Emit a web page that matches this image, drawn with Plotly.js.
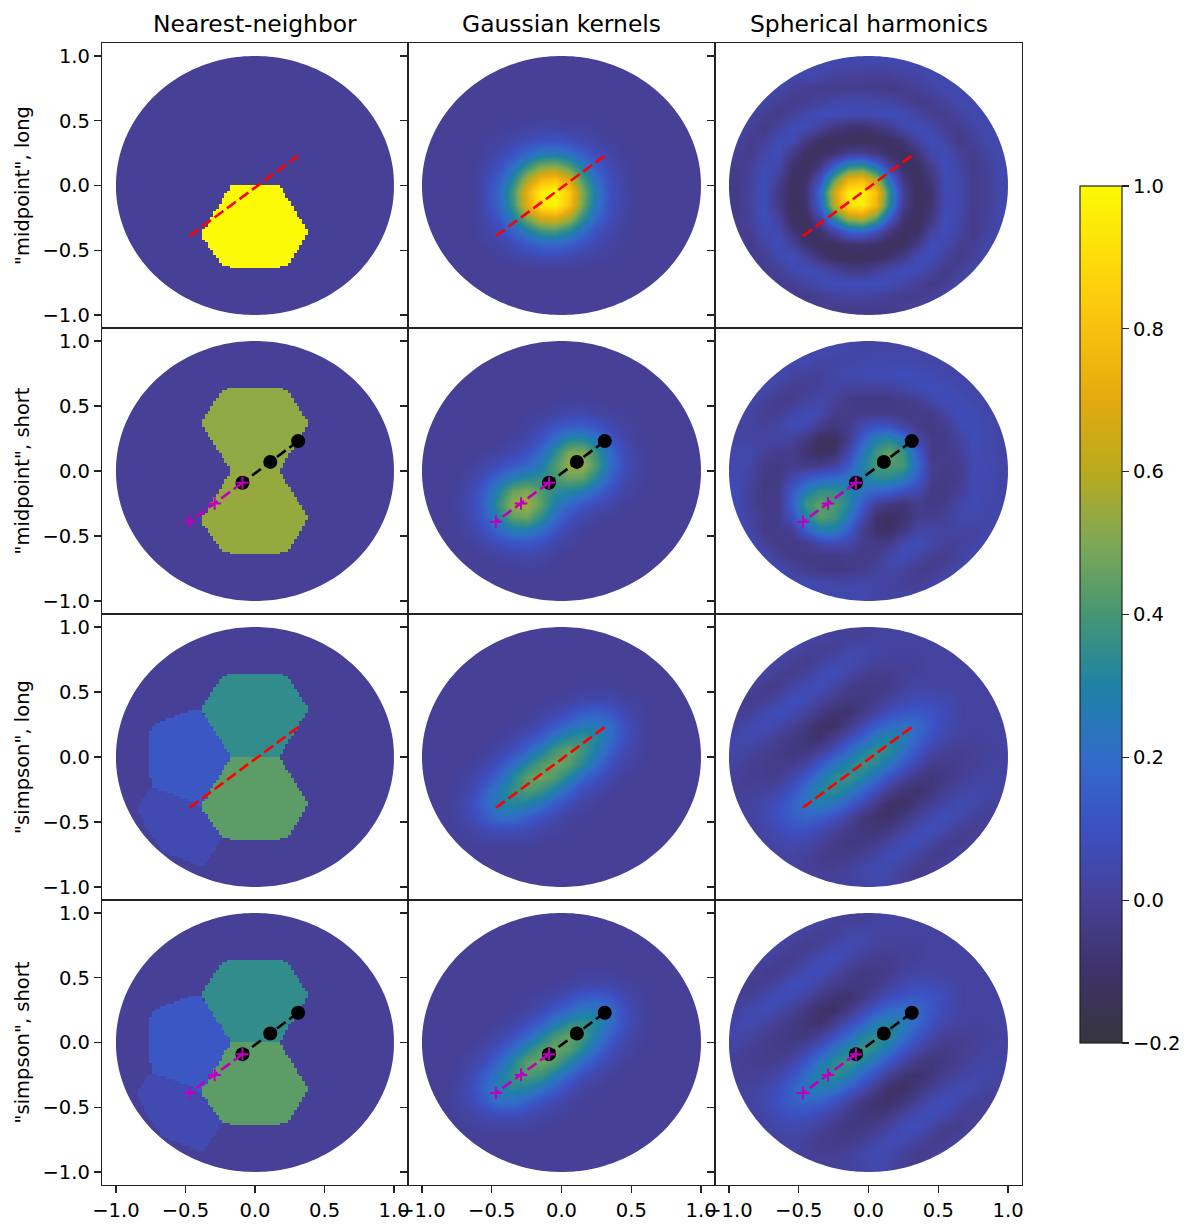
<!DOCTYPE html>
<html><head><meta charset="utf-8">
<script src="https://cdn.plot.ly/plotly-3.0.1.min.js"></script>
<style>html,body{margin:0;padding:0;background:#fff}</style>
</head><body><div id="chart" style="width:1197px;height:1232px"></div>
<script>
const columnTitles = ['Nearest-neighbor','Gaussian kernels','Spherical harmonics'];
const rowTitles = ['"midpoint", long','"midpoint", short','"simpson", long','"simpson", short'];
const tickValues = [-1,-0.5,0,0.5,1];
const colorbarTicks = [-0.2,0,0.2,0.4,0.6,0.8,1];

const scaleValues = [-0.2,-0.1,0,0.1,0.2,0.3,0.4,0.5,0.6,0.7,0.8,0.9,1];
const scaleColors = ['rgb(54,54,62)','rgb(62,50,105)','rgb(70,64,150)','rgb(60,80,195)','rgb(50,108,200)','rgb(30,130,165)','rgb(70,150,115)','rgb(125,168,85)','rgb(185,170,30)','rgb(228,170,15)','rgb(250,192,15)','rgb(253,220,10)','rgb(253,250,5)'];

// segment end points along the chord
const longX = [-0.47,0.31], longY = [-0.39,0.23];
const shortBlackX = [0.31,0.11,-0.09], shortBlackY = [0.23,0.07,-0.09];
const shortMagentaX = [-0.09,-0.29,-0.47], shortMagentaY = [-0.09,-0.25,-0.39];

// nearest-neighbour cells
const cellUpper = [[-0.23,0.627],[-0.10,0.645],[0.09,0.645],[0.23,0.627],[0.386,0.37],[0.176,0],[-0.17,0],[-0.39,0.37]];
const cellLower = [[-0.17,0],[0.176,0],[0.386,-0.362],[0.235,-0.622],[0.09,-0.64],[-0.10,-0.64],[-0.23,-0.622],[-0.39,-0.383]];
const cellLeft = [[-0.39,0.362],[-0.488,0.35],[-0.728,0.254],[-0.756,0.183],[-0.763,0],[-0.744,-0.229],[-0.47,-0.337],[-0.39,-0.383],[-0.17,0]];
const cellLowerLeft = [[-0.744,-0.229],[-0.852,-0.383],[-0.79,-0.537],[-0.66,-0.73],[-0.374,-0.846],[-0.235,-0.622],[-0.39,-0.383],[-0.47,-0.337]];
const nnMidpointLong = [0,1,0,0];
const nnMidpointShort = [0.53,0.54,0,0];
const nnSimpsonLong = [0.35,0.44,0.125,0.06];
const nnSimpsonShort = [0.35,0.44,0.125,0.06];

const gridX = [-.95,-.85,-.75,-.65,-.55,-.45,-.35,-.25,-.15,-.05,.05,.15,.25,.35,.45,.55,.65,.75,.85,.95];
const gridY = [.95,.85,.75,.65,.55,.45,.35,.25,.15,.05,-.05,-.15,-.25,-.35,-.45,-.55,-.65,-.75,-.85,-.95];

// values in hundredths, rows from top to bottom
const gaussMidLong = [
[0,0,0,0,0,0,0,0,0,0,0,0,0,0,0,0,0,0,0,0],
[0,0,0,0,0,0,0,0,0,0,0,0,0,0,0,0,0,0,0,0],
[0,0,0,0,0,0,0,0,0,0,0,0,0,0,0,0,0,0,0,0],
[0,0,0,0,0,0,0,0,0,0,0,0,0,0,0,0,0,0,0,0],
[0,0,0,0,0,0,0,0,0,0,0,0,0,0,0,0,0,0,0,0],
[0,0,0,0,0,1,1,2,3,3,2,2,1,0,0,0,0,0,0,0],
[0,0,0,0,1,2,4,7,9,10,8,5,3,1,0,0,0,0,0,0],
[0,0,0,0,2,5,10,18,24,26,21,14,7,3,1,0,0,0,0,0],
[0,0,0,0,3,9,21,36,49,51,42,27,14,5,2,0,0,0,0,0],
[0,0,0,0,5,15,32,57,76,80,66,42,21,8,2,0,0,0,0,0],
[0,0,0,0,6,18,40,72,97,100,84,51,26,10,3,0,0,0,0,0],
[0,0,0,0,6,17,38,70,94,98,80,49,24,9,3,0,0,0,0,0],
[0,0,0,0,4,13,28,49,66,69,57,36,18,7,2,0,0,0,0,0],
[0,0,0,0,3,7,16,28,38,40,32,21,10,4,1,0,0,0,0,0],
[0,0,0,0,1,3,7,13,17,18,15,9,5,2,1,0,0,0,0,0],
[0,0,0,0,0,1,3,4,6,6,5,3,2,1,0,0,0,0,0,0],
[0,0,0,0,0,0,0,0,0,0,0,0,0,0,0,0,0,0,0,0],
[0,0,0,0,0,0,0,0,0,0,0,0,0,0,0,0,0,0,0,0],
[0,0,0,0,0,0,0,0,0,0,0,0,0,0,0,0,0,0,0,0],
[0,0,0,0,0,0,0,0,0,0,0,0,0,0,0,0,0,0,0,0]];

const gaussMidShort = [
[0,0,0,0,0,0,0,0,0,0,0,0,0,0,0,0,0,0,0,0],
[0,0,0,0,0,0,0,0,0,0,0,0,0,0,0,0,0,0,0,0],
[0,0,0,0,0,0,0,0,0,0,0,0,0,0,0,0,0,0,0,0],
[0,0,0,0,0,0,0,0,0,0,0,0,0,0,0,0,0,0,0,0],
[0,0,0,0,0,0,0,0,0,1,1,1,1,0,0,0,0,0,0,0],
[0,0,0,0,0,0,0,1,1,3,4,5,3,2,1,0,0,0,0,0],
[0,0,0,0,0,0,0,2,5,10,14,15,11,5,2,1,0,0,0,0],
[0,0,0,0,0,0,2,4,11,21,31,32,24,12,4,1,0,0,0,0],
[0,0,0,0,1,2,5,9,19,34,49,50,37,19,7,2,0,0,0,0],
[0,0,0,1,4,8,13,18,27,41,55,55,41,21,8,2,0,0,0,0],
[0,0,1,3,9,19,28,33,35,40,46,45,32,16,6,2,0,0,0,0],
[0,0,1,5,15,31,46,50,42,34,31,27,18,9,3,1,0,0,0,0],
[0,0,2,6,18,37,54,57,44,28,18,12,7,4,1,0,0,0,0,0],
[0,0,1,5,15,31,45,47,35,20,10,5,2,1,0,0,0,0,0,0],
[0,0,1,3,9,19,27,28,21,11,4,1,0,0,0,0,0,0,0,0],
[0,0,0,1,4,8,11,12,9,4,2,0,0,0,0,0,0,0,0,0],
[0,0,0,0,1,2,3,4,3,1,0,0,0,0,0,0,0,0,0,0],
[0,0,0,0,0,0,1,1,1,0,0,0,0,0,0,0,0,0,0,0],
[0,0,0,0,0,0,0,0,0,0,0,0,0,0,0,0,0,0,0,0],
[0,0,0,0,0,0,0,0,0,0,0,0,0,0,0,0,0,0,0,0]];

const gaussSimpson = [
[0,0,0,0,0,0,0,0,0,0,0,0,0,0,0,0,0,0,0,0],
[0,0,0,0,0,0,0,0,0,0,0,0,0,0,0,0,0,0,0,0],
[0,0,0,0,0,0,0,0,0,0,0,0,0,0,0,0,0,0,0,0],
[0,0,0,0,0,0,0,0,0,0,0,0,0,0,0,0,0,0,0,0],
[0,0,0,0,0,0,0,0,0,0,0,1,1,1,0,0,0,0,0,0],
[0,0,0,0,0,0,0,0,0,1,2,4,4,4,2,1,0,0,0,0],
[0,0,0,0,0,0,0,1,2,4,8,13,15,12,5,2,0,0,0,0],
[0,0,0,0,0,0,1,2,6,12,19,25,26,20,9,3,0,0,0,0],
[0,0,0,0,0,1,3,8,15,26,34,36,32,21,9,3,0,0,0,0],
[0,0,0,0,1,4,9,18,29,40,46,39,28,15,6,2,0,0,0,0],
[0,0,0,1,4,10,20,32,42,47,43,33,20,9,3,1,0,0,0,0],
[0,0,1,3,8,18,32,44,47,42,31,19,10,4,1,0,0,0,0,0],
[0,0,1,5,15,26,36,42,38,28,17,8,4,1,0,0,0,0,0,0],
[0,0,2,8,18,28,33,30,24,14,7,3,1,0,0,0,0,0,0,0],
[0,0,2,6,14,22,22,16,10,5,2,1,0,0,0,0,0,0,0,0],
[0,0,1,3,6,8,8,6,4,2,1,0,0,0,0,0,0,0,0,0],
[0,0,0,1,2,2,2,2,1,0,0,0,0,0,0,0,0,0,0,0],
[0,0,0,0,0,0,0,0,0,0,0,0,0,0,0,0,0,0,0,0],
[0,0,0,0,0,0,0,0,0,0,0,0,0,0,0,0,0,0,0,0],
[0,0,0,0,0,0,0,0,0,0,0,0,0,0,0,0,0,0,0,0]];

const sphMidLong = [
[5,5,5,5,5,5,5,5,5,5,5,5,5,5,5,5,5,5,5,5],
[5,5,5,5,5,5,4,2,1,0,0,0,2,3,5,5,5,5,5,5],
[5,5,5,4,1,-1,-2,-3,-2,-2,-3,-3,-2,0,3,5,5,5,5,5],
[5,5,3,0,-2,-1,1,4,5,5,4,3,0,-3,-2,2,5,5,5,5],
[5,3,-1,-3,1,5,8,8,7,6,7,8,7,3,-1,-2,2,5,5,5],
[5,0,-3,1,7,8,1,-5,-8,-9,-6,-2,5,8,4,-1,-2,3,5,5],
[2,-2,0,7,7,-4,-11,-13,-13,-13,-13,-12,-7,3,8,3,-3,0,5,5],
[0,-2,4,8,-3,-12,-12,-8,-2,-1,-5,-11,-13,-7,5,7,0,-2,3,5],
[-2,0,7,4,-9,-13,-5,14,33,36,22,1,-11,-12,-2,8,3,-3,1,5],
[-2,1,8,0,-12,-10,9,44,72,77,57,22,-5,-13,-6,7,5,-2,0,5],
[-3,2,8,-4,-13,-8,19,65,95,98,80,36,-1,-13,-9,6,5,-2,0,5],
[-3,2,8,-3,-13,-9,16,60,92,96,75,33,-2,-13,-8,6,5,-2,0,5],
[-2,1,8,1,-12,-12,3,33,57,62,44,14,-8,-13,-5,8,4,-3,1,5],
[-1,-1,6,6,-7,-13,-9,3,16,19,9,-5,-12,-11,1,8,2,-3,2,5],
[1,-3,3,8,1,-9,-13,-12,-9,-8,-10,-13,-12,-4,8,5,-1,-1,4,5],
[3,-2,-1,5,8,1,-7,-12,-13,-13,-12,-9,-3,7,7,1,-3,1,5,5],
[5,1,-2,0,5,8,6,1,-3,-4,0,4,8,7,2,-3,0,4,5,5],
[5,5,1,-2,-1,3,6,8,8,8,8,7,4,0,-3,-1,3,5,5,5],
[5,5,5,1,-2,-3,-1,1,2,2,1,0,-2,-2,0,3,5,5,5,5],
[5,5,5,5,3,1,-1,-2,-3,-3,-2,-2,0,2,5,5,5,5,5,5]];

const sphMidShort = [
[5,5,5,5,5,5,5,5,4,3,3,3,3,4,5,5,5,5,5,5],
[5,5,5,5,5,5,3,3,3,4,5,5,5,4,3,4,5,5,5,5],
[5,5,5,5,3,1,1,3,5,6,7,7,8,7,6,4,3,5,5,5],
[5,5,5,2,-1,-1,1,3,2,1,1,2,4,7,8,7,5,3,5,5],
[5,5,1,-2,-2,2,4,1,-3,-4,-4,-4,-3,-1,4,7,7,5,3,5],
[5,2,-1,-1,4,7,5,-2,-3,-3,-3,-3,-4,-3,-3,3,7,7,4,4],
[3,2,1,3,7,6,-3,-6,-3,6,11,10,3,-3,-4,-2,6,7,5,3],
[3,3,3,3,1,-5,-12,-12,-3,14,28,33,23,5,-3,-3,2,7,5,3],
[4,5,0,-2,-2,-8,-12,-10,4,24,38,45,38,15,-4,-3,0,7,5,3],
[5,4,-3,-4,-2,-4,-3,1,12,29,40,42,40,20,-1,-3,-2,6,6,3],
[6,2,-4,-4,4,12,17,19,23,28,34,34,28,14,-2,-4,-2,6,5,3],
[7,0,-4,-3,13,28,36,36,31,22,17,15,9,5,-4,-4,0,6,5,3],
[7,0,-4,-3,15,38,44,41,32,14,0,-5,-7,-2,-4,-2,3,6,4,4],
[7,2,-3,-3,10,30,43,39,26,6,-9,-12,-9,-2,-2,0,4,5,3,4],
[7,4,-3,-3,-1,15,27,27,15,-1,-10,-11,-5,3,4,2,3,2,4,5],
[7,6,0,-3,-3,-2,5,7,4,-2,-4,-3,5,8,4,1,1,3,5,5],
[5,7,6,-1,-3,-4,-4,-4,-3,-3,-2,4,7,4,-1,-2,2,5,5,5],
[3,5,7,6,1,-2,-3,-4,-3,-2,1,4,2,-2,-2,1,5,5,5,5],
[5,5,5,5,5,6,4,3,3,4,3,2,0,-1,2,5,5,5,5,5],
[5,5,5,5,5,5,5,5,5,5,3,2,2,3,5,5,5,5,5,5]];

const sphSimpson = [
[6,6,6,6,6,6,4,1,0,0,2,3,2,2,2,2,2,2,2,2],
[6,6,6,6,4,1,-1,0,3,4,3,2,2,2,2,2,2,2,2,2],
[6,6,5,3,0,-2,0,4,6,4,2,1,1,1,2,2,2,2,2,2],
[6,4,3,-1,-2,1,6,8,4,0,-2,-2,0,1,2,2,2,2,2,2],
[4,1,-2,-2,2,6,8,3,-2,-4,-4,-3,1,3,3,2,2,2,2,2],
[0,-2,-1,3,8,7,2,-2,-4,-5,-3,1,5,7,6,5,3,2,2,2],
[-1,0,5,8,6,1,-4,-8,-9,-4,2,8,11,13,11,7,3,2,2,2],
[2,5,7,4,0,-5,-10,-11,-4,5,13,19,22,19,12,6,3,2,2,2],
[4,5,3,-1,-4,-7,-9,-2,7,16,27,31,27,18,9,4,2,1,2,2],
[4,2,-1,-3,-5,-5,0,9,19,30,36,33,22,11,4,0,-1,0,1,2],
[2,-1,-2,-3,-2,3,12,23,31,37,33,24,12,4,-2,-3,-1,0,2,2],
[0,-1,-2,-1,4,12,24,34,37,31,21,10,2,-4,-6,-4,-1,2,3,3],
[0,0,1,4,10,21,31,35,29,18,8,-1,-7,-9,-6,-1,2,4,4,2],
[2,2,4,8,16,24,28,24,15,6,-3,-10,-11,-6,-1,3,6,5,2,1],
[2,2,5,10,15,18,16,10,3,-5,-9,-10,-6,0,5,8,5,1,0,1],
[2,2,3,7,10,10,6,2,-3,-6,-7,-4,1,6,8,5,0,-1,1,3],
[2,2,2,4,5,4,1,-3,-5,-4,-2,2,7,8,3,-2,-2,1,3,4],
[2,2,2,2,3,1,-2,-3,-3,-1,3,7,6,2,-2,-2,2,4,6,6],
[2,2,2,2,2,0,-1,-1,1,4,6,5,1,-2,-1,3,5,6,6,6],
[2,2,2,2,2,2,1,1,2,3,5,3,0,-2,0,3,5,6,6,6]];

const nnPanels = [nnMidpointLong,nnMidpointShort,nnSimpsonLong,nnSimpsonShort];
const gaussPanels = [gaussMidLong,gaussMidShort,gaussSimpson,gaussSimpson];
const sphPanels = [sphMidLong,sphMidShort,sphSimpson,sphSimpson];

const W = 1197, H = 1232;
const colEdges = [102,408,715,1022];
const rowEdges = [43,328,614,900,1185];
const textColor = '#000';
const fontFamily = '"DejaVu Sans", sans-serif';
const tickSize = 19.5;
const colorscale = scaleValues.map((v,i)=>[(v+0.2)/1.2, scaleColors[i]]);

function inside(poly,x,y){
  let c=false;
  for(let i=0,j=poly.length-1;i<poly.length;j=i++){
    const [xi,yi]=poly[i],[xj,yj]=poly[j];
    if((yi>y)!==(yj>y) && x<(xj-xi)*(y-yi)/(yj-yi)+xi) c=!c;
  }
  return c;
}
const cells=[cellUpper,cellLower,cellLeft,cellLowerLeft];
const nnAxis=[]; for(let i=0;i<100;i++) nnAxis.push(-0.99+i*0.02);
function nnGrid(values){
  return nnAxis.map(y=>nnAxis.map(x=>{
    for(let k=0;k<cells.length;k++) if(inside(cells[k],x,y)) return values[k];
    return 0;
  }));
}
const hundredths = g => g.map(r=>r.map(v=>v/100));

// white surround outside the unit disc
let maskPath='M-1.03,-1.03L1.03,-1.03L1.03,1.03L-1.03,1.03Z';
for(let i=0;i<=240;i++){
  const t=2*Math.PI*i/240;
  maskPath+=(i?'L':'M')+Math.cos(t).toFixed(4)+','+Math.sin(t).toFixed(4);
}
maskPath+='Z';

const data=[], shapes=[], annotations=[];
const layout={width:W,height:H,paper_bgcolor:'#fff',plot_bgcolor:'rgba(0,0,0,0)',showlegend:false,
  margin:{l:0,r:0,t:0,b:0,autoexpand:false},font:{family:fontFamily,size:tickSize,color:textColor}};

for(let r=0;r<4;r++){
  for(let c=0;c<3;c++){
    const n=r*3+c+1, sx=n===1?'':n, xa='x'+sx, ya='y'+sx;
    layout['xaxis'+sx]={domain:[colEdges[c]/W,colEdges[c+1]/W],range:[-1.1,1.1],anchor:ya,showgrid:false,zeroline:false,
      showline:true,mirror:true,linecolor:'#222',linewidth:1.2,layer:'above traces',
      tickmode:'array',tickvals:r===3?tickValues:[],tickformat:'.1f',ticks:r===3?'outside':'',ticklen:7,tickwidth:1.2,tickcolor:'#222',
      showticklabels:r===3,tickfont:{size:tickSize,color:textColor,family:fontFamily}};
    layout['yaxis'+sx]={domain:[1-rowEdges[r+1]/H,1-rowEdges[r]/H],range:[-1.1,1.1],anchor:xa,showgrid:false,zeroline:false,
      showline:true,mirror:true,linecolor:'#222',linewidth:1.2,layer:'above traces',
      tickmode:'array',tickvals:tickValues,tickformat:'.1f',ticks:'outside',ticklen:7,tickwidth:1.2,tickcolor:'#222',
      showticklabels:c===0,tickfont:{size:tickSize,color:textColor,family:fontFamily}};
    if(c===0){
      layout['yaxis'+sx].title={text:rowTitles[r],font:{size:tickSize,color:textColor,family:fontFamily},standoff:7};
    }
    const base={type:'heatmap',xaxis:xa,yaxis:ya,zmin:-0.2,zmax:1,colorscale,showscale:false,hoverinfo:'skip'};
    if(c===0) data.push({...base,x:nnAxis,y:nnAxis,z:nnGrid(nnPanels[r]),zsmooth:false});
    else data.push({...base,x:gridX,y:gridY,z:hundredths((c===1?gaussPanels:sphPanels)[r]),zsmooth:'best'});

    if(r%2===0){
      data.push({type:'scatter',mode:'lines',x:longX,y:longY,xaxis:xa,yaxis:ya,hoverinfo:'skip',
        line:{color:'#ff0000',width:2.6,dash:'11px,4.5px'}});
    } else {
      data.push({type:'scatter',mode:'lines+markers',x:shortBlackX,y:shortBlackY,xaxis:xa,yaxis:ya,hoverinfo:'skip',
        line:{color:'#000',width:2.6,dash:'11px,4.5px'},marker:{color:'#000',size:14,symbol:'circle'}});
      data.push({type:'scatter',mode:'lines+markers',x:shortMagentaX,y:shortMagentaY,xaxis:xa,yaxis:ya,hoverinfo:'skip',
        line:{color:'#bf00bf',width:2.6,dash:'11px,4.5px'},marker:{color:'#bf00bf',size:9,symbol:'cross-thin',line:{color:'#bf00bf',width:2}}});
    }
    shapes.push({type:'path',xref:xa,yref:ya,layer:'above',path:maskPath,fillcolor:'#fff',fillrule:'evenodd',line:{width:0}});
  }
}
columnTitles.forEach((t,c)=>annotations.push({text:t,xref:'paper',yref:'paper',
  x:(colEdges[c]+colEdges[c+1])/2/W,y:1-40/H,yanchor:'bottom',xanchor:'center',showarrow:false,
  font:{size:23.4,color:textColor,family:fontFamily}}));

// colour bar carrier
data[0].showscale=true;
data[0].colorbar={x:1080/W,xanchor:'left',xpad:0,ypad:0,y:1-186/H,yanchor:'top',lenmode:'pixels',len:857,thicknessmode:'pixels',thickness:42,
  outlinewidth:1.2,outlinecolor:'#222',tickmode:'array',tickvals:colorbarTicks,tickformat:'.1f',ticks:'outside',ticklen:7,tickwidth:1.2,tickcolor:'#222',
  tickfont:{size:tickSize,color:textColor,family:fontFamily}};

layout.shapes=shapes; layout.annotations=annotations;
Plotly.newPlot('chart',data,layout,{staticPlot:true,displayModeBar:false});
</script></body></html>
